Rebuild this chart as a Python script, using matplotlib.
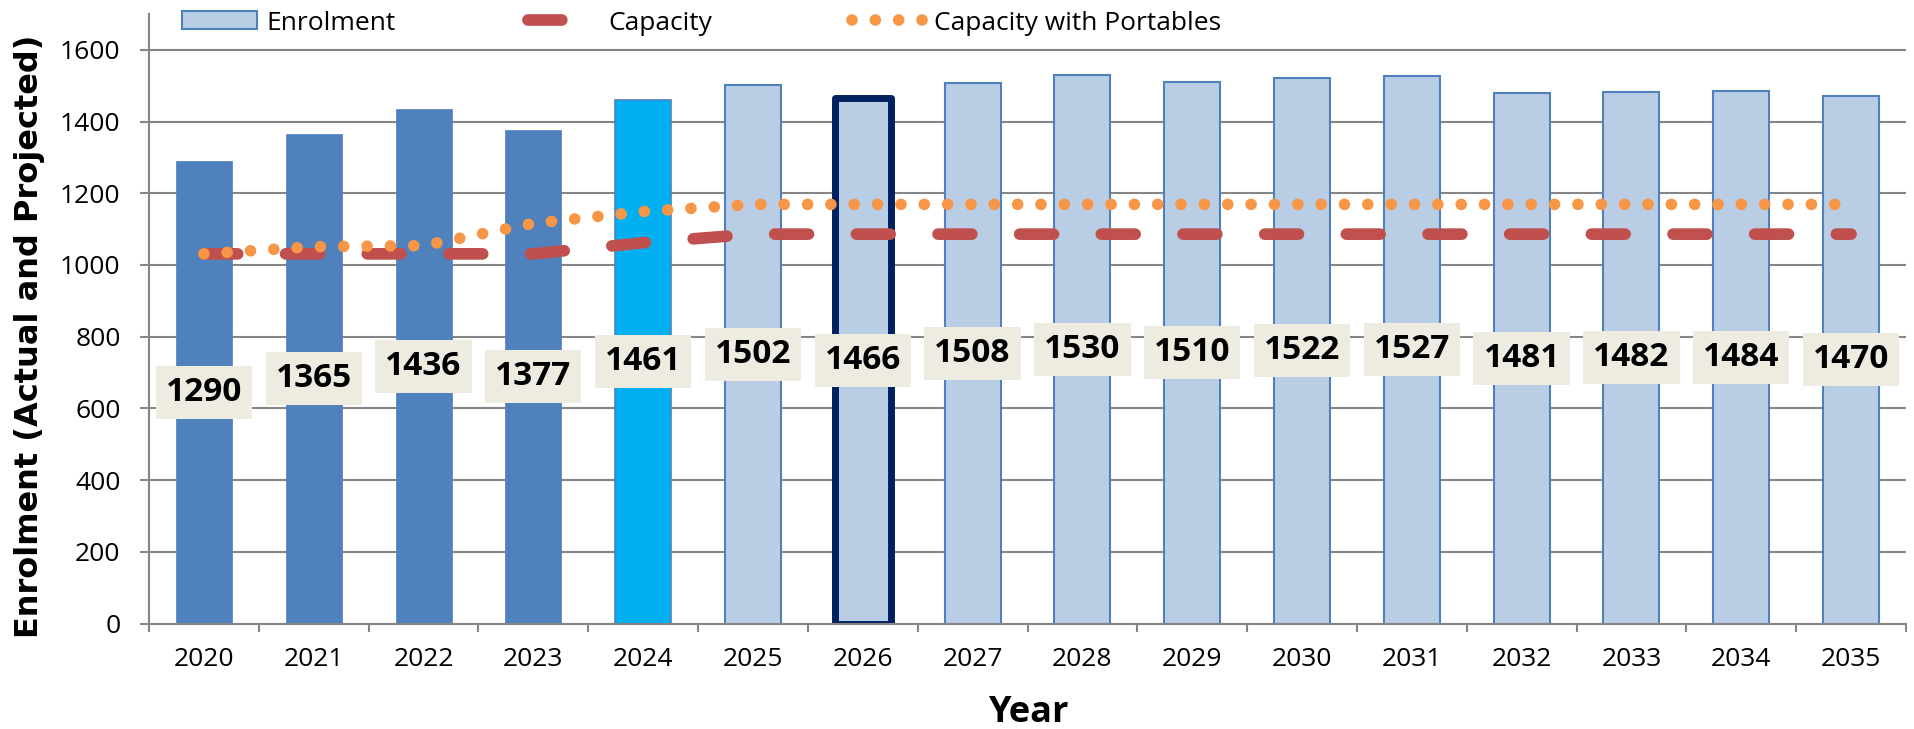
import numpy as np
import matplotlib
matplotlib.use("Agg")
import matplotlib.pyplot as plt

plt.rcParams['font.family'] = ['Open Sans', 'DejaVu Sans']

# data
years = [str(y) for y in range(2020, 2036)]
enrolment = [1290, 1365, 1436, 1377, 1461, 1502, 1466, 1508,
             1530, 1510, 1522, 1527, 1481, 1482, 1484, 1470]
capacity = [1031, 1031, 1031, 1031, 1062, 1086, 1086, 1086,
            1086, 1086, 1086, 1086, 1086, 1086, 1086, 1086]
portables = [1031, 1051, 1054, 1116, 1149, 1169, 1169, 1169,
             1169, 1169, 1169, 1169, 1169, 1169, 1169, 1169]

# bar styling: actual years, current year, projections (2026 highlighted)
bar_fill = ['#4F81BD'] * 4 + ['#00B0F0'] + ['#B9CDE5'] * 11
bar_edge = ['#4F81BD'] * 4 + ['#4F81BD'] + ['#4F81BD', '#002060'] + ['#4F81BD'] * 9
bar_lw = [0.5] * 4 + [1.2] + [1.5, 5.0] + [1.5] * 9

GRID = '#868686'
W, H = 1914, 729

fig = plt.figure(figsize=(W / 100, H / 100), dpi=100)
ax = fig.add_axes([149 / W, (H - 623.5) / H, 1757 / W, 609.5 / H])

x = np.arange(len(years))
bars = ax.bar(x, enrolment, width=0.51, color=bar_fill, edgecolor=bar_edge,
              linewidth=bar_lw, zorder=2)
bars[6].set_joinstyle('round')

cap_line, = ax.plot(x, capacity, color='#C0504D', lw=8.4,
                    linestyle=(0, (2.9, 4.1)), dash_capstyle='round', zorder=3)
port_line, = ax.plot(x, portables, color='#F79646', lw=8.4,
                     linestyle=(0, (0.001, 2.0)), dash_capstyle='round', zorder=4)

# value labels sit at the middle of each bar
for xi, v in zip(x, enrolment):
    ax.text(xi, v / 2, str(v), ha='center', va='center', fontsize=24,
            fontweight='bold', color='black', zorder=6,
            bbox=dict(boxstyle='square,pad=0.3', fc='#EEECE1', ec='none'))

# axes
ax.set_xlim(-0.5, len(years) - 0.5)
ax.set_ylim(0, 1700)
ax.set_yticks(range(0, 1601, 200))
ax.set_xticks(np.arange(-0.5, len(years), 1))
ax.set_xticklabels([])
ax.set_xticks(x, minor=True)
ax.set_xticklabels(years, minor=True)
ax.tick_params(axis='x', which='minor', length=0, pad=17, labelsize=19)
ax.tick_params(axis='x', which='major', length=6, width=1.5, color=GRID)
ax.tick_params(axis='y', length=6.5, width=1.5, color=GRID, pad=14, labelsize=19)
ax.yaxis.grid(True, color=GRID, lw=1.5)
ax.set_axisbelow(True)
for s in ['top', 'right']:
    ax.spines[s].set_visible(False)
for s in ['left', 'bottom']:
    ax.spines[s].set_color(GRID)
    ax.spines[s].set_linewidth(1.5)

fig.text(30 / W, 1 - 336 / H, 'Enrolment (Actual and Projected)', rotation=90,
         ha='center', va='center', fontsize=23, fontweight='bold',
         family='DejaVu Sans')
fig.text(1028 / W, 1 - 713 / H, 'Year', ha='center', va='center',
         fontsize=26, fontweight='bold')

# legend: three separate entries so each handle keeps its own length
leg_fs = 19
fs_px = leg_fs * 100 / 72
common = dict(loc='center left', bbox_transform=fig.transFigure, frameon=False,
              borderpad=0, borderaxespad=0, fontsize=leg_fs)
leg1 = ax.legend([bars[5]], ['Enrolment'], bbox_to_anchor=(182 / W, 1 - 23 / H),
                 handlelength=75 / fs_px, handleheight=18 / fs_px,
                 handletextpad=9 / fs_px, **common)
ax.add_artist(leg1)
leg2 = ax.legend([cap_line], ['Capacity'], bbox_to_anchor=(528 / W, 1 - 23 / H),
                 handlelength=34 / fs_px, handletextpad=46 / fs_px, **common)
ax.add_artist(leg2)
ax.legend([port_line], ['Capacity with Portables'], bbox_to_anchor=(852 / W, 1 - 23 / H),
          handlelength=71 / fs_px, handletextpad=11 / fs_px, **common)

fig.savefig('out.png', dpi=100)
